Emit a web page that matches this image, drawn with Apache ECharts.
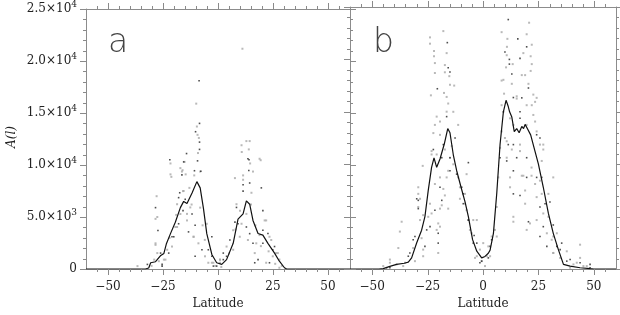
<!DOCTYPE html>
<html><head><meta charset="utf-8">
<script src="https://cdn.jsdelivr.net/npm/echarts@6/dist/echarts.min.js"></script>
<style>html,body{margin:0;padding:0;background:#fff}#c{width:620px;height:315px}</style>
</head><body><div id="c"></div>
<script>
// ---- tick labels / tick positions ----
const xTickValues = [-50, -25, 0, 25, 50];
const xTickLabels = ['\u221250', '\u221225', '0', '25', '50'];
const xMinorTicks = [-55, -45, -40, -35, -30, -20, -15, -10, -5, 5, 10, 15, 20, 30, 35, 40, 45, 55];
const yTickValues = [0, 5000, 10000, 15000, 20000, 25000];
const yTickLabels = ['0', '5.0\u00d710{s|3}', '1.0\u00d710{s|4}', '1.5\u00d710{s|4}', '2.0\u00d710{s|4}', '2.5\u00d710{s|4}'];
const yMinorTicks = [1000, 2000, 3000, 4000, 6000, 7000, 8000, 9000, 11000, 12000, 13000, 14000, 16000, 17000, 18000, 19000, 21000, 22000, 23000, 24000];
const panelLetters = ['a', 'b'];
const xTitle = 'Latitude';
const yTitle = 'A(l)';

// ---- panel a: running mean curve (latitude, A) ----
const lineA = [[-60,0],[-33,0],[-31.5,100],[-30.6,600],[-28.4,700],[-26,1300],[-24.6,1500],[-23.5,2400],[-21.6,3400],[-19.4,4500],[-17.1,5900],[-15.6,6500],[-14.1,6300],[-11.8,7300],[-9.6,8400],[-8.1,7800],[-6.6,5800],[-5.1,3400],[-2.8,1400],[-0.6,600],[1.7,440],[3.9,900],[6.9,2470],[9.1,4800],[11.4,5300],[12.9,6550],[14.4,6230],[15.9,4670],[18.2,3410],[20.4,3260],[22.7,2470],[25.7,1530],[27.9,750],[30.2,120],[31.2,0],[60,0]];

// ---- panel b: running mean curve ----
const lineB = [[-60,0],[-47,0],[-45,30],[-42,250],[-39,440],[-35.5,550],[-33.7,650],[-32.2,1060],[-29.9,2500],[-27.7,3700],[-26.2,5000],[-24.7,7500],[-23.2,9700],[-22.1,10600],[-20.9,9700],[-19.4,10500],[-17.5,11900],[-15.9,13400],[-14.9,13000],[-13.4,10900],[-11.9,9400],[-9.9,7800],[-8.1,6400],[-6.6,5000],[-4.7,2800],[-2.8,1700],[-0.6,1060],[0.9,1200],[2.4,1500],[3.2,1800],[4.7,3400],[6.2,7200],[7.7,11900],[9.2,15000],[10.4,16100],[11.4,15500],[12,15000],[13,14500],[14.1,13100],[15.2,13400],[16.3,13000],[17.5,13600],[18.3,13400],[19,13800],[20,13400],[21.5,12800],[23.5,11200],[25,10000],[27.2,7800],[29.5,5300],[31.7,3400],[34,1850],[36.3,440],[39.3,280],[43.8,120],[48.3,30],[50,0],[60,0]];

// ---- panel a: individual values ----
const dotsAGray = [[11.1,21180],[-9.9,15900],[-9.6,13700],[-9.3,12900],[-8.7,12600],[10.7,11900],[14.4,12300],[-9.1,11150],[-15.2,10300],[-17.1,9700],[-16.1,9500],[-21.6,9100],[-14.7,9100],[-10.8,9000],[-21.2,8860],[10.8,11250],[14,11500],[19.4,10460],[14.6,10150],[11.4,9000],[-8.1,9370],[-27.9,7000],[-27.6,5000],[-28.4,2470],[-27.6,1530],[-15.6,7500],[-14.1,5300],[-11.1,3100],[-5.1,4350],[-8.1,5900],[-18.6,4040],[-23.1,1850],[-24.6,900],[-36.6,280],[-2.8,600],[0.9,900],[6.9,1850],[12.9,12300],[7.7,8740],[15.9,9370],[18.9,10600],[8.4,6230],[9.9,3100],[12.9,5300],[17.4,2470],[21.9,4670],[23.4,3100],[26.4,1530],[27.9,910],[27.9,120],[21.9,600],[-28.4,4820],[-28.4,2320],[-26.9,750],[-23.9,900],[-20.9,2160],[-19.4,4040],[-17.1,5290],[-18.6,6230],[-15.9,7490],[-14.1,4670],[-11.1,3100],[-12.6,5920],[-8.9,2470],[-5.9,1220],[-4.4,600],[0.9,600],[-16.4,9370],[-21.6,10150],[11.4,8580],[15.2,7330],[10.7,4350],[6.9,3730],[3.9,2160],[0.9,900],[13.6,2790],[16.7,1530],[21.2,4670],[24.2,2790],[27.2,1530],[24.9,1220],[18.9,3260],[-2.1,600],[-30.2,300],[-29,900],[-22,3000],[-19,5200],[-13,7800],[-12,6200],[-7,4200],[-6,2800],[-1.2,300],[1.5,200],[5,1500],[8,3800],[10,5600],[15,6200],[17,4200],[19.5,2200],[23,1700],[26,500],[29,300]];
const dotsABlack = [[-8.6,18100],[-8.4,14000],[-10.2,13200],[-8.4,12200],[-8.4,11500],[-14.3,11100],[-21.9,10500],[-9.3,10400],[-10.7,9450],[-7.8,9400],[14.1,10500],[14,9470],[-28.4,5900],[-27.3,3700],[-16.4,9050],[-17.9,6860],[-10.4,1220],[-2.8,3100],[-20.9,3100],[-25.4,280],[-32.1,440],[3.9,1220],[13.6,10600],[11.4,8100],[19.7,7800],[9.1,4350],[14.4,3400],[20.4,3730],[24.9,1850],[16.7,600],[-26.1,1530],[-25.4,440],[-22.4,1530],[-20.1,3100],[-17.9,4350],[-15.9,5610],[-17.4,7330],[-14.9,6700],[-13.4,3570],[-11.8,5290],[-10.4,4200],[-7.3,1850],[-4.4,1850],[-2.1,280],[2.4,900],[-15.6,10300],[14.4,8270],[11.4,7490],[8.4,5920],[7.7,4510],[5.4,2790],[2.4,1530],[12.9,4040],[15.9,2470],[18.2,900],[20.4,5610],[22.7,3410],[25.7,2160],[23.4,600],[20.4,2470],[-2.8,1220],[-0.6,280]];

// ---- panel b: individual values ----
const dotsBGray = [[20.8,23500],[-17.9,22700],[-23.9,22100],[8.4,22600],[-23.9,21500],[11,21960],[19.7,22400],[22,21400],[10.8,21200],[-22.1,20800],[-16.4,20600],[10.7,20400],[-22.1,20300],[18.2,20600],[21.5,20300],[-21.7,19650],[-17.2,19460],[13.4,19550],[10.4,19240],[22,19550],[-17.2,18770],[-21.7,18700],[-15.2,18400],[17.5,18500],[19,18500],[21.5,18900],[9.2,18050],[8.4,17980],[13,17670],[20.5,17670],[-14.9,17580],[-13,17500],[-17.6,16800],[-23.5,16570],[-16.4,16420],[9.5,16730],[15.2,16480],[22.7,16640],[24.2,16330],[-20.9,14540],[-21.7,13750],[-19.4,12800],[-13.4,15000],[-11.2,13750],[8.4,15630],[15.2,16260],[19.7,15630],[19.7,13750],[22.7,14700],[24.2,13130],[27.2,11870],[10.7,12190],[16.7,11870],[23.5,15950],[-29.2,7800],[-29.2,5920],[-28.4,4670],[-36.7,4510],[-37.5,3570],[-38.2,2000],[-42,600],[-36,280],[-30.7,750],[-27,1850],[-23.9,6230],[-23.2,5300],[-20.2,4350],[-19.4,4040],[-18.6,6080],[-20.2,1530],[-21.7,8110],[-17.2,7020],[-16.4,8740],[-15.7,5760],[-11.2,8740],[-10.4,6700],[-8.1,7170],[-7.4,5610],[-4.4,4670],[-5.1,3410],[-1.4,1850],[-0.6,750],[0.9,280],[-3.6,1060],[-23.2,10930],[-20.9,10930],[-17.2,11400],[-14.9,10620],[-14.1,11720],[-7.4,9050],[-27.2,9840],[-29.2,7170],[-22.4,12970],[-19.4,14070],[-16.4,15010],[-15.7,15790],[-23.2,11250],[-45,280],[-42,900],[9.9,12500],[10.7,10620],[13,11400],[18.2,8900],[21.9,8900],[23.5,8110],[25.7,11870],[27.2,11400],[12.2,7800],[19,6230],[24.2,6860],[29.5,7170],[31.7,8740],[21.2,4350],[28.8,3410],[31,2790],[31.7,1530],[34.8,1060],[42.3,600],[43.8,1060],[45.3,280],[39.3,120],[-2.8,4670],[0.1,2470],[2.4,2160],[5.4,3730],[3.2,1220],[6.2,5920],[6.9,8740],[8.4,13130],[12.2,14380],[22,15630],[23.5,14070],[26.5,10310],[13.7,4980],[13.7,13750],[43.8,2320],[31.7,3100],[27.2,5300],[25.7,8430],[17.5,8900],[19,7490],[13.7,4510],[6.2,3100],[-28.4,6700],[-27,5140],[-24.7,4980],[-20.9,3730],[-19.4,5760],[-17.9,7640],[-19.4,8740],[-15.7,9370],[-13.4,9990],[-10.4,7800],[-8.1,6230],[-5.9,3730],[-2.8,1220],[1.7,1220],[3.9,3100],[-35.2,600],[-39,440],[-31.5,2000],[-27.7,2940],[-27,1220],[7.7,11560],[12.2,8740],[16.7,11250],[21.9,9680],[26.5,7170],[29.5,4980],[33.3,3410],[37.8,1690],[40.8,440],[46.8,280],[24.2,4670],[19.7,3730],[31.7,1530]];
const dotsBBlack = [[11.4,23800],[-16.1,21600],[15.7,21960],[19.7,21200],[9.9,20700],[11.9,20000],[16.7,20100],[-15.7,19200],[11.9,19550],[-14.9,18800],[13,18600],[20.5,17270],[-20.6,17200],[13.7,16360],[17.5,16330],[-17.9,11870],[-16.4,14540],[-12.6,12500],[9.2,15000],[16.7,14380],[25.7,12500],[13.7,11870],[-29.9,6700],[-31.5,2790],[-33,1530],[-43.5,120],[-25.4,3730],[-21.7,5610],[-20.2,3410],[-19.4,7800],[-14.9,9370],[-9.6,7800],[-8.9,6230],[-6.6,4670],[-2.8,2470],[2.4,1060],[-22.4,11400],[-18.6,10620],[-6.6,10150],[-20.2,2470],[-29.2,6550],[11.4,11870],[15.2,10620],[19.7,8740],[26.5,8740],[16.7,7020],[25.7,5920],[27.2,4040],[33.3,2160],[37.8,750],[48.3,440],[-4.0,3200],[3.9,2790],[-1.4,600],[7.7,10620],[16.7,15010],[24.2,12810],[20.5,4510],[34.8,1850],[30.2,6390],[13.7,9370],[-29.2,5760],[-23.9,4040],[-18.6,6550],[-14.9,10620],[-11.9,9050],[-8.9,7170],[-6.6,4670],[-4.4,2470],[-0.6,750],[3.2,2160],[-33.7,1220],[-42,120],[-30.7,3100],[-26.2,2160],[10.7,10310],[13.7,7170],[19.7,10620],[24.2,8740],[28,6230],[31.7,4200],[35.5,2470],[39.3,910],[43.8,600],[48.3,120],[25.7,3100],[28.8,2160]];

const AX = '#8c8c8c';
const TK = '#8a8a8a';
const FONT = 'DejaVu Serif';
const X_MIN = -60, X_MAX = 60, Y_MIN = 0, Y_MAX = 25000;

function xAxesFor(g) {
  return [
    {gridIndex: g, type: 'value', min: X_MIN, max: X_MAX, interval: 5, position: 'bottom', splitLine: {show: false},
      axisLine: {show: true, onZero: false, lineStyle: {color: AX, width: 1}},
      axisTick: {show: false},
      axisLabel: {show: true, margin: 12, fontSize: 12, color: '#222', fontFamily: FONT,
        formatter: v => { const i = xTickValues.indexOf(v); return i >= 0 ? xTickLabels[i] : ''; }},
      name: xTitle, nameLocation: 'middle', nameGap: 29,
      nameTextStyle: {fontSize: 12, color: '#222', fontFamily: FONT}},
    {gridIndex: g, type: 'value', min: X_MIN, max: X_MAX, interval: 5, position: 'top', splitLine: {show: false},
      axisLine: {show: true, onZero: false, lineStyle: {color: AX, width: 1}},
      axisTick: {show: false}, axisLabel: {show: false}}
  ];
}
function yAxesFor(g, labels) {
  const base = {gridIndex: g, type: 'value', min: Y_MIN, max: Y_MAX, interval: 5000, splitLine: {show: false},
    axisLine: {show: true, onZero: false, lineStyle: {color: AX, width: 1}}, axisTick: {show: false}};
  return [
    Object.assign({}, base, {position: 'left',
      axisLabel: {show: labels, margin: 9, fontSize: 12, color: '#222', fontFamily: FONT,
        formatter: v => yTickLabels[yTickValues.indexOf(v)],
        rich: {s: {fontSize: 9, color: '#222', fontFamily: FONT, verticalAlign: 'top', padding: [0, 0, 9, 0]}}}}),
    Object.assign({}, base, {position: 'right', axisLabel: {show: false}})
  ];
}

function dots(data, color, size, xi, yi) {
  return {type: 'scatter', data: data, symbol: 'rect', symbolSize: size, xAxisIndex: xi, yAxisIndex: yi,
    itemStyle: {color: color}, silent: true, z: 2};
}
function curve(data, xi, yi) {
  return {type: 'line', data: data, showSymbol: false, symbol: 'none', xAxisIndex: xi, yAxisIndex: yi,
    lineStyle: {color: '#111', width: 1.2}, silent: true, z: 3};
}

const chart = echarts.init(document.getElementById('c'), null, {renderer: 'canvas'});
const staticGraphics = [
  {type: 'text', id: 'la', x: 108, y: 60, style: {text: panelLetters[0], font: '200 33px "DejaVu Sans"', fill: '#444', textVerticalAlign: 'bottom'}},
  {type: 'text', id: 'lb', x: 373, y: 60, style: {text: panelLetters[1], font: '200 33px "DejaVu Sans"', fill: '#444', textVerticalAlign: 'bottom'}},
  {type: 'text', id: 'yt', x: 12, y: 137, rotation: Math.PI / 2, style: {text: yTitle, font: 'italic 12px "DejaVu Serif"', fill: '#222', textAlign: 'center', textVerticalAlign: 'middle'}}
];
chart.setOption({
  animation: false,
  backgroundColor: '#fff',
  grid: [
    {left: 86, top: 7, width: 264, height: 266},
    {left: 350, top: 7, width: 266, height: 266}
  ],
  xAxis: xAxesFor(0).concat(xAxesFor(1)),
  yAxis: yAxesFor(0, true).concat(yAxesFor(1, false)),
  series: [
    dots(dotsAGray, '#a8a8a8', 2, 0, 0),
    dots(dotsABlack, '#222', 1.6, 0, 0),
    curve(lineA, 0, 0),
    dots(dotsBGray, '#a8a8a8', 2, 2, 2),
    dots(dotsBBlack, '#222', 1.6, 2, 2),
    curve(lineB, 2, 2)
  ],
  graphic: staticGraphics
});

// tick marks: positions come from the axes' own scales (convertToPixel), drawn outward
const tickEls = [];
function seg(x1, y1, x2, y2) {
  tickEls.push({type: 'line', silent: true, z: 50, shape: {x1: x1, y1: y1, x2: x2, y2: y2}, style: {stroke: TK, lineWidth: 1}});
}
[0, 1].forEach(g => {
  const f = {xAxisIndex: 2 * g, yAxisIndex: 2 * g};
  const px = v => Math.round(chart.convertToPixel(f, [v, Y_MIN])[0]) + 0.5;
  const py = v => Math.round(chart.convertToPixel(f, [X_MIN, v])[1]) + 0.5;
  const yb = chart.convertToPixel(f, [X_MIN, Y_MIN])[1];
  const yt = chart.convertToPixel(f, [X_MIN, Y_MAX])[1];
  const xl = chart.convertToPixel(f, [X_MIN, Y_MIN])[0];
  const xr = chart.convertToPixel(f, [X_MAX, Y_MIN])[0];
  xTickValues.forEach(v => { const x = px(v); seg(x, yb, x, yb + 6); seg(x, yt, x, yt - 6); });
  xMinorTicks.forEach(v => { const x = px(v); seg(x, yb, x, yb + 3); seg(x, yt, x, yt - 3); });
  yTickValues.forEach(v => { const y = py(v); seg(xl, y, xl - 6, y); seg(xr, y, xr + 6, y); });
  yMinorTicks.forEach(v => { const y = py(v); seg(xl, y, xl - 3, y); seg(xr, y, xr + 3, y); });
});
chart.setOption({graphic: staticGraphics.concat(tickEls)});
</script></body></html>
